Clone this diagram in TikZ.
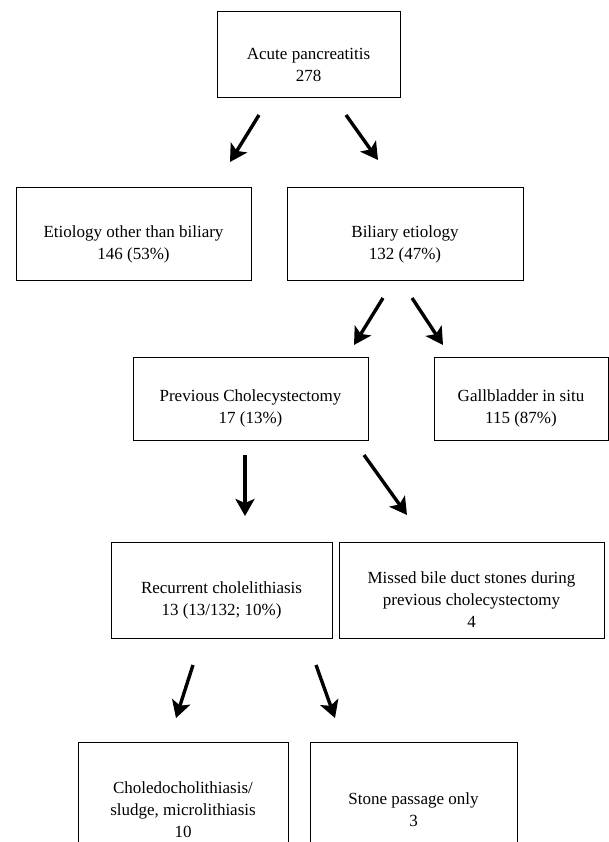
\documentclass[tikz,border=0pt]{standalone}
\usepackage{fontspec}
\setmainfont{Liberation Serif}
\usetikzlibrary{arrows.meta}
\tikzstyle{flow_box}=[rectangle,
                      draw=black,
                      line width=1pt,
                      inner sep=0pt, ]
\tikzstyle{flow_text}=[align=center,
                       inner sep=0pt,
                       font=\fontsize{17}{22}\selectfont, ]
\tikzstyle{flow_arrow}=[line width=3.4pt,
                        -{Stealth[length=17pt, width=19pt, inset=4pt]}, ]

\begin{document}
\begin{tikzpicture}[x=1pt, y=-1pt]
    \useasboundingbox (0,0) rectangle (609,842);
    \fill[white] (0,0) rectangle (609,842);
    \clip (0,0) rectangle (609,842);

    \foreach \n/\cx/\cy/\w/\h/\txt in {
        acute/308.5/55/183/86/{Acute pancreatitis\\278},
        other/133.5/234/235/92/{Etiology other than biliary\\146 (53\%)},
        biliary/405/234/236/92/{Biliary etiology\\132 (47\%)},
        previous/250.5/398.5/235/83/{Previous Cholecystectomy\\17 (13\%)},
        gallbladder/521/398.5/174/83/{Gallbladder in situ\\115 (87\%)},
        recurrent/221.5/590/221/96/{Recurrent cholelithiasis\\13 (13/132; 10\%)},
        missed/471.5/590/265/96/{Missed bile duct stones during\\previous cholecystectomy\\4},
        choledocho/183/800/210/116/{Choledocholithiasis/\\sludge, microlithiasis\\10},
        stone/413.5/800/207/116/{Stone passage only\\3}} {
      \node at (\cx, \cy) (box_\n) [flow_box, minimum width=\w pt, minimum height=\h pt] {};
      \node at ([yshift=-10pt]box_\n.center) (text_\n) [flow_text] {\txt};
    }

    \foreach \i/\xa/\ya/\xb/\yb in {1/259/115/230/162,
                                    2/346/115/378/160,
                                    3/383/298/354/345,
                                    4/412/298/443/345,
                                    5/245/455/245/516,
                                    6/364/455/407/515,
                                    7/193/665/176/718,
                                    8/316/665/335/718} {
      \coordinate (arrow_\i_from) at (\xa, \ya);
      \coordinate (arrow_\i_to) at (\xb, \yb);
      \draw[flow_arrow] (arrow_\i_from) -- (arrow_\i_to);
    }
\end{tikzpicture}
\end{document}
